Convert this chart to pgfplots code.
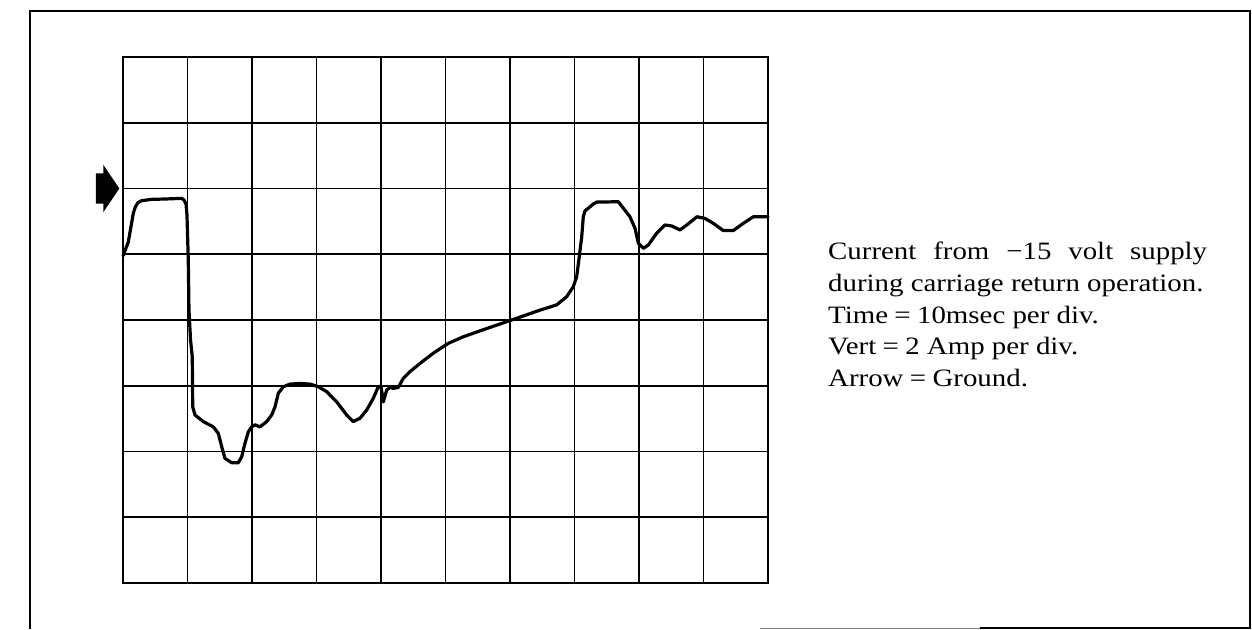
\documentclass[border=0pt]{standalone}
\usepackage{pgfplots}
\pgfplotsset{compat=1.18}
\usepackage{fontspec}
\setmainfont{Liberation Serif}
\pgfplotstableread{
t A
0.00 -2.05
0.82 -1.63
1.60 -0.75
1.94 -0.55
2.33 -0.43
2.90 -0.37
4.45 -0.33
6.51 -0.32
9.10 -0.30
9.46 -0.35
9.77 -0.47
9.92 -0.81
10.12 -2.17
10.23 -3.70
10.47 -4.61
10.74 -5.12
10.81 -6.64
11.16 -6.89
12.45 -7.09
14.00 -7.25
14.78 -7.45
15.30 -7.85
15.81 -8.21
16.85 -8.34
17.88 -8.34
18.40 -8.16
18.91 -7.75
19.43 -7.40
19.95 -7.25
20.47 -7.19
21.24 -7.25
22.28 -7.09
23.05 -6.89
23.57 -6.64
24.08 -6.23
24.85 -6.03
25.89 -5.95
27.44 -5.93
28.99 -5.95
30.28 -6.03
31.58 -6.18
33.13 -6.49
34.68 -6.89
35.71 -7.09
36.74 -6.99
37.78 -6.74
38.81 -6.38
39.58 -6.03
40.00 -6.01
40.36 -6.49
40.88 -6.13
41.40 -6.05
41.91 -6.08
42.68 -6.05
43.46 -5.77
44.50 -5.57
46.05 -5.32
48.11 -5.01
50.43 -4.71
52.76 -4.51
55.35 -4.33
60.26 -4.00
64.65 -3.70
67.24 -3.54
68.79 -3.29
69.81 -2.99
70.34 -2.68
70.74 -2.07
71.12 -1.47
71.36 -0.86
71.63 -0.68
72.14 -0.60
72.92 -0.47
73.49 -0.41
74.99 -0.41
76.79 -0.40
77.57 -0.60
78.60 -0.86
79.38 -1.21
79.89 -1.66
80.67 -1.82
81.44 -1.72
82.74 -1.36
84.03 -1.11
85.07 -1.14
86.36 -1.26
87.40 -1.11
88.99 -0.86
90.23 -0.91
91.52 -1.06
93.07 -1.28
94.62 -1.28
96.17 -1.06
97.72 -0.86
100.00 -0.86
}\trace
\newcommand{\eqs}{\hspace{0.22em}=\hspace{0.22em}}
\begin{document}
\begin{tikzpicture}[x=1pt,y=1pt]
\useasboundingbox (0,0) rectangle (1252,629);
\draw[line width=2.5pt] (30,0) -- (30,618) -- (1250,618) -- (1250,0);
\draw[line width=0.8pt, gray] (760,1) -- (980,1);
\draw[line width=1.8pt] (980,1) -- (1250,1);
\begin{axis}[
  at={(123pt,46pt)}, anchor=south west,
  scale only axis, width=645pt, height=526pt,
  xmin=0, xmax=100, ymin=-12, ymax=4,
  xtick={0,10,...,100}, ytick={-12,-10,...,4},
  xticklabels={}, yticklabels={},
  major tick length=0pt,
  grid=major,
  major grid style={line width=1.8pt, black},
  axis line style={line width=2.6pt},
  clip=false,
]
\addplot[black, line width=3.2pt, line join=round, line cap=round] table[x=t, y=A] {\trace};
\fill (axis cs:-4.19,0.46) -- (axis cs:-3.05,0.46) -- (axis cs:-3.05,0.72)
  -- (axis cs:-0.57,0) -- (axis cs:-3.05,-0.72) -- (axis cs:-3.05,-0.46)
  -- (axis cs:-4.19,-0.46) -- cycle;
\end{axis}
\begin{scope}[every node/.style={anchor=base west, inner sep=0pt, font=\fontsize{25}{31}\selectfont}]
\node at (828,369) {\scalebox{1.155}[1]{\makebox[328.1pt][s]{Current from −15 volt supply}}};
\node at (828,337.3) {\scalebox{1.155}[1]{during carriage return operation.}};
\node at (828,305.7) {\scalebox{1.155}[1]{Time\eqs 10msec per div.}};
\node at (828,274) {\scalebox{1.155}[1]{Vert\eqs 2 Amp per div.}};
\node at (828,242.3) {\scalebox{1.155}[1]{Arrow\eqs Ground.}};
\end{scope}
\end{tikzpicture}
\end{document}
